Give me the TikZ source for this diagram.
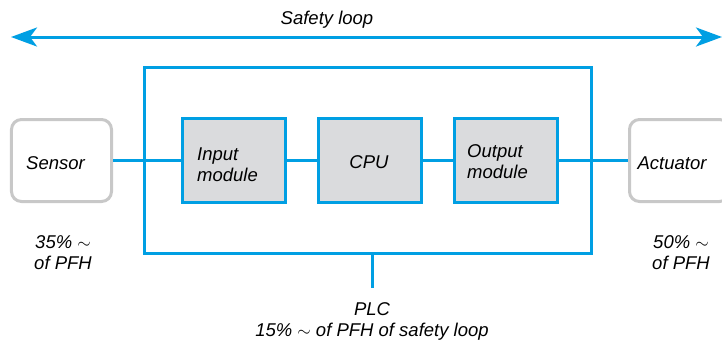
\documentclass[tikz,border=0pt]{standalone}
\usepackage{fontspec}
\setmainfont{Liberation Sans}
\usetikzlibrary{arrows.meta}
\definecolor{loopblue}{RGB}{0,159,227}
\definecolor{boxgray}{RGB}{200,200,200}
\definecolor{fillgray}{RGB}{218,219,221}
\tikzset{
  txt/.style={font=\fontsize{18.5bp}{21bp}\selectfont\itshape, inner sep=0pt, align=center},
  devbox/.style={draw=boxgray, line width=3bp, rounded corners=10bp, fill=white, minimum width=100bp, minimum height=82bp, inner sep=0pt},
  modbox/.style={draw=loopblue, line width=3bp, fill=fillgray, minimum width=103bp, minimum height=84bp, inner sep=0pt},
  plcbox/.style={draw=loopblue, line width=3bp, minimum width=447bp, minimum height=186bp, inner sep=0pt},
  wire/.style={draw=loopblue, line width=3bp},
  looparrow/.style={draw=loopblue, line width=3bp, {Stealth[length=26bp,width=19bp,inset=7bp]}-{Stealth[length=26bp,width=19bp,inset=7bp]}}
}
\begin{document}
\begin{tikzpicture}[x=1bp,y=-1bp]
\useasboundingbox (0,0) rectangle (722,342);
\clip (0,0) rectangle (722,342);
\fill[white] (0,0) rectangle (722,342);
% safety loop arrow
\coordinate (la) at (11,37);
\coordinate (ra) at (722,37);
\draw[looparrow] (la) -- (ra);
\node[txt] (sl) at (327,20) {Safety loop};
% PLC box
\node[plcbox] (plc) at (368,160.5) {};
% devices
\node[devbox] (sen) at (61.5,160.5) {};
\node[txt] (sent) at (55.5,163) {Sensor};
\node[devbox] (act) at (679.5,160.5) {};
\node[txt] (actt) at (672,163) {Actuator};
% modules
\node[modbox] (inm) at (234,160.5) {};
\node[modbox] (cpu) at (370,160.5) {};
\node[modbox] (outm) at (506,160.5) {};
% connectors
\draw[wire] (sen.east) -- (inm.west);
\draw[wire] (inm.east) -- (cpu.west);
\draw[wire] (cpu.east) -- (outm.west);
\draw[wire] (outm.east) -- (act.west);
% redraw boxes on top
\node[modbox] at (inm) {};
\node[modbox] at (cpu) {};
\node[modbox] at (outm) {};
\node[txt, align=left, anchor=west] (inmt) at (197,165) {Input\\module};
\node[txt] (cput) at (369,162) {CPU};
\node[txt, align=left, anchor=west] (outmt) at (467,162) {Output\\module};
% stub
\coordinate (stubend) at (372,288);
\draw[wire] (plc.south -| stubend) -- (stubend);
% percentage labels
\node[txt] (sp) at (63,252.5) {35\% $\sim$\\of PFH};
\node[txt] (ap) at (681,252.5) {50\% $\sim$\\of PFH};
\node[txt] (plct) at (372,321) {PLC\\15\% $\sim$ of PFH of safety loop};
\end{tikzpicture}
\end{document}
